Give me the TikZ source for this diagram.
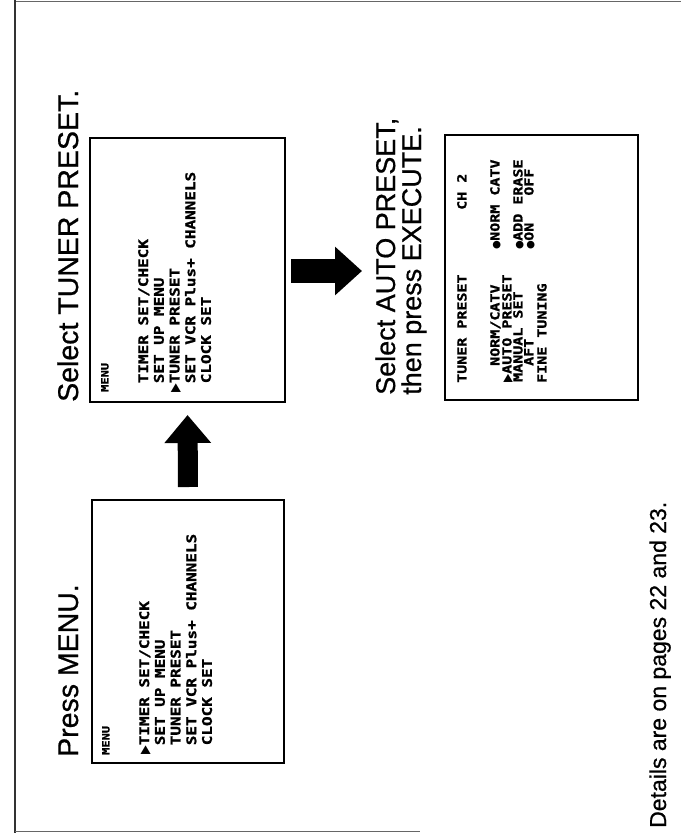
\documentclass[tikz,border=0pt]{standalone}
\usepackage{fontspec}
\usepackage{graphicx}
\usetikzlibrary{arrows.meta}
\setmainfont{Liberation Sans}
\newfontfamily\headfont[FakeBold=0.7]{Liberation Sans}
\newfontfamily\osdfont[FakeStretch=1.2, BoldFeatures={FakeBold=1.2}]{DejaVu Sans Mono}
\newfontfamily\symfont{DejaVu Sans}
% one character cell of the on-screen font
\newcommand\osdgap{\hspace*{\fontcharwd\font`0}}
\newcommand\osdtri{\makebox[\fontcharwd\font`0][l]{\symfont\scalebox{0.85}[1]{▶}}}
\newcommand\osddot{\makebox[\fontcharwd\font`0][l]{\symfont\scalebox{0.8}{●}}}
\tikzset{
  screen/.style={draw=black, line width=2.6pt, inner sep=0pt, outer sep=0pt, anchor=north west},
  heading/.style={rotate=90, anchor=base west, inner sep=0pt, font=\headfont\fontsize{27}{27}\selectfont},
  bigheading/.style={heading, font=\headfont\fontsize{28.5}{28.5}\selectfont},
  footnote/.style={rotate=90, anchor=base west, inner sep=0pt, font=\headfont\fontsize{23}{23}\selectfont},
  osdtitle/.style={rotate=90, anchor=north west, inner sep=0pt, font=\osdfont\bfseries\fontsize{10}{12}\selectfont},
  osdlist/.style={rotate=90, anchor=north west, inner sep=0pt, align=left, font=\osdfont\bfseries\fontsize{13.3}{15.7}\selectfont},
  osdline/.style={rotate=90, anchor=north west, inner sep=0pt, font=\osdfont\bfseries\fontsize{12.5}{12.5}\selectfont},
  pagerule/.style={draw=black!60, line width=1.2pt},
}
\begin{document}
\begin{tikzpicture}[x=1pt,y=1pt]
\useasboundingbox (0,0) rectangle (681,-833);
\fill[white] (0,0) rectangle (681,-833);

% page edge
\draw[pagerule] (15,-1.5) -- (681,-1.5);
\draw[pagerule, draw=black!80] (15,0) -- (15,-833);
\draw[pagerule] (15,-831.5) -- (420,-831.5);

% step 1: main menu
\node[bigheading] (headA) at (78,-757) {Press MENU.};
\node[screen, minimum width=192pt, minimum height=263pt] (screenA) at (92,-500) {};
\node[osdtitle] (titleA) at (102,-755) {MENU};
\node[osdlist] (listA) at (139,-755) {\osdtri TIMER SET/CHECK\\
\osdgap SET UP MENU\\
\osdgap TUNER PRESET\\
\osdgap SET VCR Plus+ CHANNELS\\
\osdgap CLOCK SET};

% step 2: main menu with tuner preset selected
\node[bigheading] (headB) at (78,-402) {Select TUNER PRESET.};
\node[screen, minimum width=195pt, minimum height=264pt] (screenB) at (90,-138) {};
\node[osdtitle] (titleB) at (101,-392) {MENU};
\node[osdlist] (listB) at (138,-393) {\osdgap TIMER SET/CHECK\\
\osdgap SET UP MENU\\
\osdtri TUNER PRESET\\
\osdgap SET VCR Plus+ CHANNELS\\
\osdgap CLOCK SET};

% step 3: tuner preset screen
\node[heading] (headC1) at (395,-395) {Select AUTO PRESET,};
\node[heading] (headC2) at (421,-395) {then press EXECUTE.};
\node[screen, minimum width=193pt, minimum height=265pt] (screenC) at (445,-135) {};
\node[osdline] (tpTitle) at (457,-383) {TUNER PRESET};
\node[osdline] (tpCh) at (457,-210) {CH\osdgap 2};
\node[osdline] (tpNorm) at (490,-366) {NORM/CATV};
\node[osdline] (tpNormOpt) at (490,-250) {\osddot NORM\osdgap CATV};
\node[osdline] (tpAuto) at (502,-383) {\osdtri AUTO PRESET};
\node[osdline] (tpManual) at (513,-382) {MANUAL SET};
\node[osdline] (tpManualOpt) at (513,-250) {\osddot ADD\osdgap ERASE};
\node[osdline] (tpAft) at (524,-366) {AFT};
\node[osdline] (tpAftOpt) at (524,-250) {\osddot ON\osdgap\osdgap\osdgap OFF};
\node[osdline] (tpFine) at (537,-383) {FINE TUNING};

% block arrows between the steps
\draw[line width=20pt, shorten <=13pt, shorten >=13pt,
      -{Triangle[width=45pt,length=28pt]}] (screenA.north) -- (screenB.south);
\coordinate (tipR) at (362,-271);
\draw[line width=24pt, shorten <=6pt,
      -{Triangle[width=47pt,length=27pt]}] (screenB.east |- tipR) -- (tipR);

\node[footnote] (note) at (666,-828) {Details are on pages 22 and 23.};
\end{tikzpicture}
\end{document}
